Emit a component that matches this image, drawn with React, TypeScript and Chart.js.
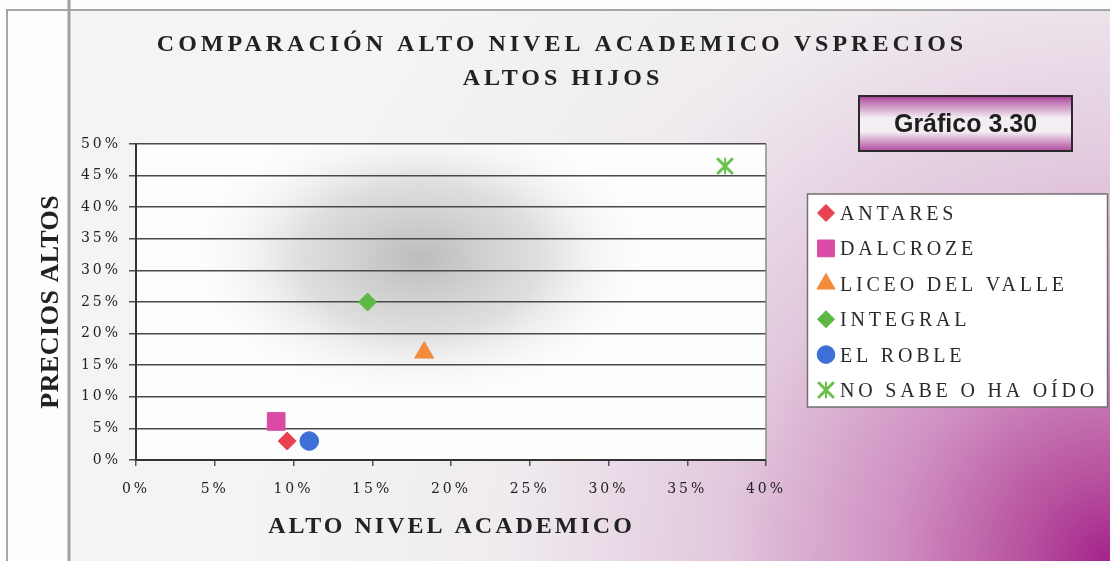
import React, { useEffect, useRef } from "react";
import { Chart, registerables } from "chart.js";
import { drawPoint } from "chart.js/helpers";

Chart.register(...registerables);

// ---------- data ----------
const seriesNames = ["ANTARES", "DALCROZE", "LICEO DEL VALLE", "INTEGRAL", "EL ROBLE", "NO SABE O HA OÍDO"];
const nivelAcademico = [9.6, 8.9, 18.3, 14.7, 11.0, 37.4]; // x, %
const preciosAltos = [3.0, 6.1, 17.0, 25.0, 3.0, 46.5]; // y, %
const seriesColors = ["#E84250", "#D94BA5", "#F28C3C", "#5DB846", "#3E6FD6", "#6ABF4B"];
const xTickValues = [0, 5, 10, 15, 20, 25, 30, 35, 40];
const yTickValues = [0, 5, 10, 15, 20, 25, 30, 35, 40, 45, 50];
const titleLines = ["COMPARACIÓN ALTO NIVEL ACADEMICO VSPRECIOS", "ALTOS HIJOS"];
const xAxisTitle = "ALTO NIVEL ACADEMICO";
const yAxisTitle = "PRECIOS ALTOS";
const badgeText = "Gráfico 3.30";

// ---------- styles ----------
const markerStyles = ["rectRot", "rect", "triangle", "rectRot", "circle", "star"];
const markerRadius = [9, 12.5, 11, 9, 9.3, 10];

function makeStar(color: string) {
  const c = document.createElement("canvas");
  c.width = 20;
  c.height = 18;
  const x = c.getContext("2d")!;
  x.strokeStyle = color;
  x.lineWidth = 3;
  x.lineCap = "round";
  x.beginPath();
  x.moveTo(3, 2); x.lineTo(17, 16);
  x.moveTo(17, 2); x.lineTo(3, 16);
  x.stroke();
  x.lineWidth = 2;
  x.beginPath();
  x.moveTo(10, 1.5); x.lineTo(10, 16.5);
  x.stroke();
  return c;
}

function spacedText(ctx: any, text: string, cx: number, baseY: number, spacing: number) {
  ctx.letterSpacing = "0px";
  const w0 = ctx.measureText(text).width;
  const w = w0 + spacing * (text.length - 1);
  ctx.letterSpacing = spacing + "px";
  ctx.textAlign = "left";
  ctx.textBaseline = "alphabetic";
  ctx.fillText(text, cx - w / 2, baseY);
  ctx.letterSpacing = "0px";
}

export default function App() {
  const ref = useRef<HTMLCanvasElement>(null);

  useEffect(() => {
    document.body.style.margin = "0";
    const star = makeStar(seriesColors[5]);
    const styles: any[] = markerStyles.map((s) => (s === "star" ? star : s));

    const decor = {
      id: "decor",
      beforeDraw(chart: any) {
        const { ctx, width, height, chartArea: a } = chart;
        ctx.save();
        ctx.fillStyle = "#fdfdfd";
        ctx.fillRect(0, 0, width, height);
        const g = ctx.createRadialGradient(width, height, 0, width, height, 860);
        g.addColorStop(0, "#a3238c");
        g.addColorStop(0.1, "#b8529f");
        g.addColorStop(0.25, "#cf8fc2");
        g.addColorStop(0.45, "#e2c8dd");
        g.addColorStop(0.7, "#efebef");
        g.addColorStop(1, "#f4f4f4");
        ctx.fillStyle = g;
        ctx.fillRect(70, 10, width - 70, height - 10);

        // plot area
        ctx.fillStyle = "#fdfdfd";
        ctx.fillRect(a.left, a.top, a.right - a.left, a.bottom - a.top);
        ctx.save();
        ctx.beginPath();
        ctx.rect(a.left, a.top, a.right - a.left, a.bottom - a.top);
        ctx.clip();
        ctx.translate(420, 258);
        ctx.scale(1.6, 1);
        const rg = ctx.createRadialGradient(0, 0, 0, 0, 0, 150);
        rg.addColorStop(0, "rgba(188,188,188,1)");
        rg.addColorStop(0.5, "rgba(212,212,212,0.75)");
        rg.addColorStop(1, "rgba(255,255,255,0)");
        ctx.fillStyle = rg;
        ctx.fillRect(-300, -200, 600, 400);
        ctx.restore();

        // frame lines
        ctx.strokeStyle = "#8a8a8a";
        ctx.lineWidth = 1.5;
        ctx.beginPath();
        ctx.moveTo(6, 10); ctx.lineTo(width, 10);
        ctx.moveTo(7, 10); ctx.lineTo(7, height);
        ctx.stroke();
        ctx.strokeStyle = "#a0a0a0";
        ctx.lineWidth = 3;
        ctx.beginPath();
        ctx.moveTo(69, 0); ctx.lineTo(69, height);
        ctx.stroke();
        ctx.restore();
        (ctx as any).letterSpacing = "3px";
      },
      beforeDatasetsDraw(chart: any) {
        const { ctx, chartArea: a } = chart;
        (ctx as any).letterSpacing = "0px";
        ctx.save();
        ctx.strokeStyle = "#8c8c8c";
        ctx.lineWidth = 1.5;
        ctx.beginPath();
        ctx.moveTo(a.right, a.top); ctx.lineTo(a.right, a.bottom);
        ctx.stroke();
        ctx.restore();
      },
      afterDraw(chart: any) {
        const { ctx } = chart;
        ctx.save();
        ctx.fillStyle = "#222222";
        // title
        ctx.font = "bold 24px 'Liberation Serif', serif";
        spacedText(ctx, titleLines[0], 560, 51, 4);
        spacedText(ctx, titleLines[1], 561, 85, 4);
        // x axis title
        ctx.font = "bold 24px 'Liberation Serif', serif";
        spacedText(ctx, xAxisTitle, 450, 533, 3);
        // y axis title
        ctx.save();
        ctx.translate(58, 302);
        ctx.rotate(-Math.PI / 2);
        ctx.font = "bold 26px 'Liberation Serif', serif";
        spacedText(ctx, yAxisTitle, 0, 0, 0.5);
        ctx.restore();

        // badge
        const bx = 859, by = 96, bw = 213, bh = 55;
        const bg = ctx.createLinearGradient(0, by, 0, by + bh);
        bg.addColorStop(0, "#a83c98");
        bg.addColorStop(0.12, "#c27ab6");
        bg.addColorStop(0.4, "#f3eef3");
        bg.addColorStop(0.65, "#f3eef3");
        bg.addColorStop(0.88, "#c780ba");
        bg.addColorStop(1, "#b04aa0");
        ctx.fillStyle = bg;
        ctx.fillRect(bx, by, bw, bh);
        ctx.strokeStyle = "#2a2a2a";
        ctx.lineWidth = 2;
        ctx.strokeRect(bx, by, bw, bh);
        ctx.fillStyle = "#1e1e1e";
        ctx.font = "bold 25px 'Liberation Sans', Arial, sans-serif";
        spacedText(ctx, badgeText, bx + bw / 2, by + 36, 0);

        // legend
        const lx = 807.5, ly = 194, lw = 300, lh = 213;
        ctx.fillStyle = "#ffffff";
        ctx.fillRect(lx, ly, lw, lh);
        ctx.strokeStyle = "#707070";
        ctx.lineWidth = 1.5;
        ctx.strokeRect(lx, ly, lw, lh);
        ctx.font = "20px 'Liberation Serif', serif";
        seriesNames.forEach((name, i) => {
          const cy = 213 + i * 35.4;
          ctx.save();
          ctx.fillStyle = seriesColors[i];
          ctx.strokeStyle = seriesColors[i];
          ctx.lineWidth = 1;
          drawPoint(ctx, { pointStyle: styles[i], radius: markerRadius[i] * 0.95, rotation: 0, borderWidth: 1 } as any, 826, cy);
          ctx.restore();
          ctx.fillStyle = "#2a2a2a";
          ctx.letterSpacing = "3.8px";
          ctx.textAlign = "left";
          ctx.textBaseline = "alphabetic";
          ctx.fillText(name, 840, cy + 7);
          ctx.letterSpacing = "0px";
        });
        ctx.restore();
      },
    };

    const datasets = seriesNames.map((name, i) => ({
      label: name,
      data: [{ x: nivelAcademico[i], y: preciosAltos[i] }],
      pointStyle: styles[i],
      pointRadius: markerRadius[i],
      pointHoverRadius: markerRadius[i],
      backgroundColor: seriesColors[i],
      borderColor: seriesColors[i],
      borderWidth: 1,
      showLine: false,
    }));

    const tickFont = { family: "'DejaVu Serif', serif", size: 14 };

    const chart = new Chart(ref.current!, {
      type: "scatter",
      data: { datasets },
      options: {
        responsive: false,
        animation: false,
        events: [],
        layout: { padding: { left: 0, top: 144, right: 344, bottom: 0 } },
        plugins: {
          legend: { display: false },
          title: { display: false },
          tooltip: { enabled: false },
        },
        scales: {
          x: {
            type: "linear",
            min: xTickValues[0],
            max: xTickValues[xTickValues.length - 1],
            afterBuildTicks: (s: any) => { s.ticks = xTickValues.map((v) => ({ value: v })); },
            ticks: { callback: (v: any) => v + "%", font: tickFont, color: "#222", padding: 15, maxRotation: 0, autoSkip: false },
            grid: { drawOnChartArea: false, color: "#555", tickLength: 6, lineWidth: 1.5 },
            border: { color: "#333", width: 2 },
            afterFit: (s: any) => { s.height = 101; },
          },
          y: {
            min: yTickValues[0],
            max: yTickValues[yTickValues.length - 1],
            afterBuildTicks: (s: any) => { s.ticks = yTickValues.map((v) => ({ value: v })); },
            ticks: { callback: (v: any) => v + "%", font: tickFont, color: "#222", padding: 8, autoSkip: false },
            grid: { color: "#4a4a4a", lineWidth: 1.5, tickLength: 7 },
            border: { color: "#333", width: 2 },
            afterFit: (s: any) => { s.width = 136; },
          },
        },
      },
      plugins: [decor],
    } as any);
    return () => chart.destroy();
  }, []);

  return (
    <div style={{ width: 1110, height: 561 }}>
      <canvas ref={ref} width={1110} height={561} style={{ display: "block" }} />
    </div>
  );
}
